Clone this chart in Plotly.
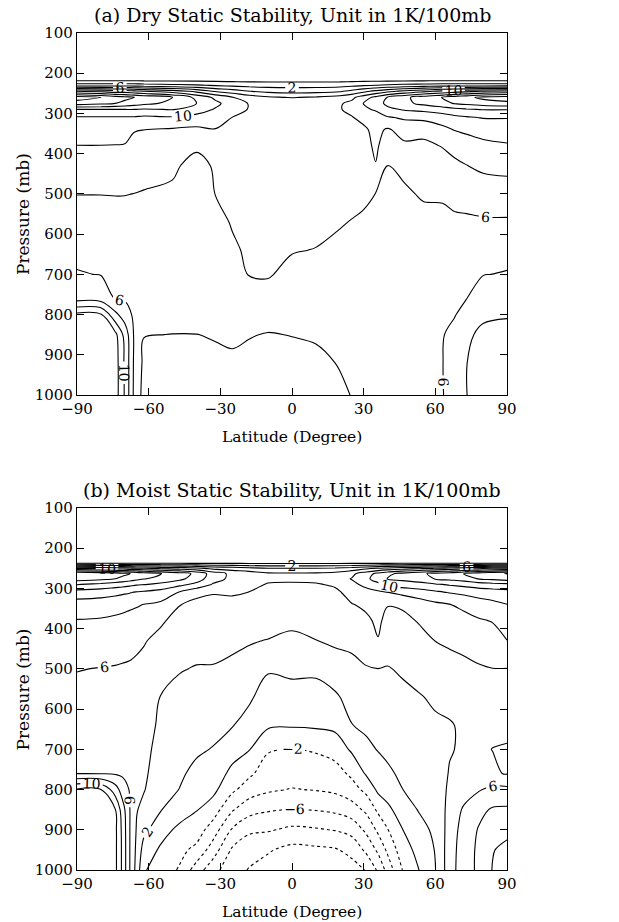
import numpy as np
import plotly.graph_objects as go

# ---------------- Panel (a): dry static stability (K/100mb) ----------------
LAT_A = [-90, -80, -74, -70, -66, -62, -50, -40, -32, -25, -18, -10, 0, 10,
         20, 25, 30, 35, 40, 47, 55, 63, 68, 73, 80, 90]
PRES_A = [100, 215, 230, 245, 260, 275, 290, 310, 340, 380, 430, 500, 570,
          640, 700, 760, 800, 850, 920, 1000]
# one row per latitude (LAT_A), values at the pressure levels PRES_A
DRY = [
    [-1, -1, 3, 12, 19, 17, 12, 9.8, 9, 7.98, 7.1, 6.02, 5.5, 5.6, 6.1, 7.2, 12.5, 13.5, 13.7, 13.7],
    [-1, -1, 3, 11.5, 18, 16.5, 12, 9.8, 9, 7.98, 7.1, 6.02, 5.5, 5.6, 5.95, 7.0, 12.2, 13.4, 13.6, 13.6],
    [-1, -1, 3, 11, 17, 16, 12, 9.8, 8.9, 7.95, 7, 6.05, 5.4, 5.4, 5.6, 5.9, 8.5, 12.6, 13, 13],
    [-1, -1, 3, 11, 16.5, 15.5, 12, 9.8, 8.8, 7.9, 7, 6.05, 5.3, 5.3, 5.5, 5.8, 7, 9.3, 9.7, 9.8],
    [-1, -1, 3, 10.5, 16, 15, 12, 9.8, 8.1, 7.5, 6.9, 5.98, 5.2, 5.1, 5.2, 5.4, 5.6, 5.7, 5.6, 5.5],
    [-1, -1, 2.8, 10, 15.5, 14.5, 11.8, 9.6, 8.02, 7.4, 6.6, 5.9, 5.3, 5.1, 5.0, 4.9, 4.8, 4.05, 3.6, 3.3],
    [-1, -1, 2.5, 9, 14, 13.5, 12.1, 9.8, 7.8, 7.2, 6.2, 5.8, 5.4, 5.2, 5.0, 4.8, 4.5, 3.98, 3.5, 3.2],
    [-1, -1, 2.2, 7.5, 11.5, 12, 11, 9.3, 7.6, 6.2, 5.6, 5.6, 5.5, 5.3, 5.1, 4.9, 4.7, 3.98, 3.6, 3.3],
    [-1, -1, 1.8, 5.8, 9.5, 10.5, 9.8, 8.6, 7.95, 6.8, 6.15, 6.02, 5.6, 5.4, 5.2, 5.0, 4.7, 4.1, 3.7, 3.3],
    [-1, -1, 1.5, 5, 8.1, 9, 8.8, 7.98, 7.6, 7.0, 6.8, 6.5, 6.1, 5.8, 5.5, 5.1, 4.7, 4.3, 3.7, 3.3],
    [-1, -1, 1.3, 4.1, 7, 7.9, 7.9, 7.6, 7.3, 7.1, 7.0, 6.8, 6.5, 6.2, 6.05, 5.4, 4.9, 4.1, 3.5, 3.1],
    [-1, -1, 1.2, 3.5, 6.3, 7.5, 7.6, 7.4, 7.2, 7.1, 7.0, 6.8, 6.6, 6.4, 6.15, 5.3, 4.8, 3.9, 3.3, 3.0],
    [-1, -1, 1.2, 3.3, 5.9, 7.4, 7.5, 7.3, 7.2, 7.1, 7.0, 6.8, 6.5, 6.1, 5.5, 5.0, 4.7, 4.05, 3.4, 3.0],
    [-1, -1, 1.2, 3.4, 6.2, 7.5, 7.6, 7.4, 7.3, 7.1, 7.0, 6.8, 6.45, 5.95, 5.5, 5.0, 4.6, 4.2, 3.6, 3.2],
    [-1, -1, 1.3, 3.8, 6.8, 7.8, 7.9, 7.6, 7.4, 7.2, 7.0, 6.6, 6.1, 5.7, 5.3, 5.0, 4.8, 4.5, 4.1, 3.7],
    [-1, -1, 1.5, 4.5, 7.5, 8.5, 8.4, 7.9, 7.5, 7.3, 7.0, 6.4, 5.95, 5.6, 5.3, 5.0, 4.8, 4.6, 4.3, 4.05],
    [-1, -1, 1.8, 5.5, 9, 10.1, 9.5, 8.5, 7.7, 7.2, 6.8, 6.25, 5.8, 5.5, 5.2, 5.03, 4.8, 4.7, 4.5, 4.3],
    [-1, -1, 2, 6.5, 10.5, 11, 10.3, 8.8, 8.5, 8.4, 7.9, 5.98, 5.6, 5.4, 5.2, 5.03, 4.9, 4.8, 4.7, 4.5],
    [-1, -1, 2.3, 7.5, 12.1, 12.5, 11.5, 9.8, 7.8, 6.9, 5.95, 5.6, 5.4, 5.3, 5.2, 5.1, 5.03, 4.9, 4.8, 4.6],
    [-1, -1, 2.6, 8.5, 13.5, 13.5, 12.2, 10.3, 8.7, 7.7, 6.3, 5.8, 5.5, 5.4, 5.3, 5.2, 5.1, 5.03, 4.9, 4.8],
    [-1, -1, 2.8, 9.5, 15, 14.5, 12.5, 10.5, 8.6, 7.6, 6.8, 6.15, 5.6, 5.4, 5.3, 5.3, 5.3, 5.3, 5.3, 5.3],
    [-1, -1, 3, 10.5, 16.1, 15.5, 13, 11, 9.5, 8.1, 7.2, 6.2, 5.6, 5.4, 5.4, 5.5, 5.7, 5.9, 5.95, 5.9],
    [-1, -1, 3, 11, 17, 16.1, 13.5, 11.5, 10.1, 8.6, 7.6, 6.5, 5.7, 5.5, 5.6, 5.7, 5.9, 6.5, 7.0, 7.0],
    [-1, -1, 3, 11.5, 17.5, 16.5, 13.8, 11.8, 10.4, 9.0, 7.95, 6.7, 5.7, 5.5, 5.7, 5.97, 6.6, 7.6, 7.95, 7.95],
    [-1, -1, 3, 12.1, 18.5, 17, 14.1, 12.1, 10.8, 9.5, 8.4, 6.9, 5.8, 5.5, 5.95, 6.9, 7.6, 8.5, 9.0, 9.2],
    [-1, -1, 3, 12.5, 19, 17.5, 14.1, 12.1, 11, 9.8, 8.6, 7, 5.8, 5.5, 6.1, 7.0, 7.8, 8.8, 9.5, 9.8],
]

# ---------------- Panel (b): moist static stability (K/100mb) ----------------
LAT_B = [-90, -80, -74, -71, -68, -65, -62, -55, -47, -40, -33, -25, -18, -10,
         0, 10, 18, 25, 31, 36, 40, 46, 53, 60, 66, 72, 78, 84, 90]
PRES_B = [100, 225, 237, 250, 263, 276, 290, 310, 340, 380, 430, 500, 570,
          640, 700, 760, 800, 850, 900, 950, 1000]
MOIST = [
    [-1, -1, -0.3, 10, 18, 17, 14.1, 11, 9.2, 7.9, 7.0, 6.05, 5.6, 5.5, 5.6, 5.95, 12.2, 13.4, 13.6, 13.6, 13.6],
    [-1, -1, -0.3, 9.5, 17.5, 16.5, 13.5, 10.8, 9.0, 7.8, 6.9, 5.95, 5.5, 5.4, 5.5, 5.9, 12.0, 13.3, 13.6, 13.6, 13.6],
    [-1, -1, -0.3, 9, 17, 16, 13, 10.5, 8.8, 7.6, 6.7, 5.9, 5.4, 5.3, 5.4, 5.8, 9.0, 12.1, 12.5, 12.5, 12.5],
    [-1, -1, -0.3, 9, 16.5, 15.5, 12.8, 10.3, 8.6, 7.5, 6.6, 5.85, 5.3, 5.2, 5.3, 5.7, 7.0, 9.0, 9.5, 9.6, 9.6],
    [-1, -1, -0.3, 8.5, 16.1, 15, 12.5, 10.1, 8.4, 7.3, 6.5, 5.8, 5.2, 5.1, 5.2, 5.5, 5.9, 6.1, 6.1, 6.1, 6.1],
    [-1, -1, -0.3, 8.2, 15.5, 14.5, 12.2, 9.8, 8.2, 7.1, 6.3, 5.7, 5.1, 4.9, 4.8, 4.6, 4.4, 4.1, 3.8, 3.5, 3.2],
    [-1, -1, -0.3, 8.1, 15, 14.1, 12.1, 9.6, 7.95, 7.0, 6.1, 5.6, 5.0, 4.7, 4.5, 4.3, 4.1, 3.5, 2.5, 1.2, 0.2],
    [-1, -1, -0.3, 7.5, 14.1, 13.5, 11.5, 9.2, 7.6, 6.2, 5.6, 4.8, 3.95, 3.7, 3.4, 3.1, 2.8, 2.1, 0.8, -0.3, -1.0],
    [-1, -1, -0.3, 7.1, 13, 12.5, 10.5, 7.8, 6.05, 5.5, 5.0, 4.1, 3.5, 3.1, 2.7, 2.3, 1.95, 1.0, -0.5, -1.5, -2.2],
    [-1, -1, -0.3, 6.5, 11.5, 11, 9.5, 6.4, 5.6, 5.1, 4.6, 3.9, 3.4, 2.9, 2.3, 1.5, 1.0, 0.1, -1.0, -2.5, -5],
    [-1, -1, -0.3, 5.5, 9, 8.8, 7.8, 6.1, 5.5, 5.03, 4.5, 3.9, 3.3, 2.6, 1.9, 1.1, 0.5, -1.0, -3.0, -5.0, -7.3],
    [-1, -1, -0.3, 5.03, 7.5, 7.5, 7.1, 6.2, 5.5, 5.03, 4.3, 3.7, 3.0, 2.1, 0.8, -0.5, -1.6, -3.8, -6.2, -8.3, -9.3],
    [-1, -1, -0.3, 4.5, 7.1, 7.2, 6.8, 5.97, 5.4, 4.9, 4.1, 3.5, 2.3, 1.3, 0.1, -1.6, -3.0, -5.2, -7.6, -9.3, -10.1],
    [-1, -1, -0.3, 4.1, 6.3, 6.6, 5.8, 5.3, 4.9, 4.5, 3.95, 2.2, 1.1, 0.3, -1.8, -3.03, -3.7, -5.8, -7.8, -9.8, -10.8],
    [-1, -1, -0.3, 4.1, 6.2, 6.5, 5.7, 5.2, 4.7, 4.2, 3.8, 2.4, 1.3, 0.2, -2.1, -3.03, -4.1, -6.1, -8.4, -10.6, -11.5],
    [-1, -1, -0.3, 4.1, 6.3, 6.6, 5.8, 5.3, 4.8, 4.3, 3.98, 2.3, 1.4, 0.3, -1.8, -3.03, -3.9, -5.9, -8.2, -10.4, -11.5],
    [-1, -1, -0.3, 4.3, 6.6, 7.1, 6.3, 5.5, 5.03, 4.6, 4.3, 3.1, 1.7, 0.5, -1.2, -2.8, -3.6, -5.6, -7.9, -10.2, -11.2],
    [-1, -1, -0.3, 4.8, 7.5, 8.1, 7.5, 6.8, 5.9, 5.2, 4.25, 3.7, 2.7, 1.95, 0.3, -1.6, -2.8, -4.9, -7.3, -9.4, -10.8],
    [-1, -1, -0.3, 5.5, 9.1, 9.5, 8.5, 7.3, 6.4, 5.6, 4.7, 3.9, 3.2, 2.4, 1.5, 0.2, -1.5, -3.6, -5.6, -7.6, -9.9],
    [-1, -1, -0.3, 6.1, 10.5, 11, 9.5, 7.6, 6.9, 6.4, 5.9, 3.98, 3.3, 2.8, 2.1, 1.0, 0.4, -1.6, -3.6, -5.6, -7.7],
    [-1, -1, -0.3, 6.5, 11.5, 12.1, 10.5, 7.95, 6.1, 5.4, 4.9, 3.9, 3.6, 3.1, 2.5, 1.6, 1.0, -0.5, -2.1, -3.6, -5.3],
    [-1, -1, -0.3, 7.1, 12.5, 12.5, 11, 8.5, 6.2, 5.6, 5.1, 4.2, 3.6, 3.2, 2.8, 2.4, 1.95, 1.0, -0.1, -1.0, -2.05],
    [-1, -1, -0.3, 7.5, 13.5, 13, 11.3, 9.0, 7.0, 6.1, 5.5, 4.5, 3.9, 3.5, 3.2, 2.9, 2.6, 2.1, 1.3, 0.6, -0.05],
    [-1, -1, -0.3, 8.1, 14.5, 14.1, 11.8, 9.6, 7.6, 6.6, 6.02, 4.9, 4.2, 3.8, 3.5, 3.2, 3.03, 2.7, 2.4, 2.1, 1.95],
    [-1, -1, -0.3, 8.5, 15, 14.5, 12.2, 10.1, 7.95, 6.9, 6.3, 5.3, 4.4, 3.9, 3.9, 4.1, 4.3, 4.6, 4.8, 5.03, 5.1],
    [-1, -1, -0.3, 9, 16.1, 15, 12.6, 10.4, 8.5, 7.3, 6.6, 5.5, 4.6, 4.2, 4.2, 4.5, 5.03, 6.3, 6.9, 7.1, 7.2],
    [-1, -1, -0.3, 9.5, 17, 16.1, 13, 10.8, 9.03, 7.8, 6.9, 5.8, 4.8, 4.3, 4.2, 4.6, 5.8, 7.5, 8.1, 8.3, 8.3],
    [-1, -1, -0.3, 10.1, 17.5, 16.5, 13.3, 11, 9.5, 8.1, 7.2, 5.97, 4.9, 4.3, 3.98, 4.2, 6.5, 8.2, 9.03, 9.9, 10.1],
    [-1, -1, -0.3, 10.1, 18.1, 17, 13.5, 11.2, 9.97, 8.6, 7.98, 5.95, 5.0, 4.3, 3.9, 3.9, 6.5, 8.3, 9.5, 10.5, 11],
]

# contour level sets: (start, end, step, labelled, dash)
LEVEL_SETS = [
    (2, 10, 4, True, "solid"),
    (14, 30, 4, False, "solid"),
    (0, 28, 4, False, "solid"),
    (-10, -2, 4, True, "dot"),
    (-12, -4, 4, False, "dot"),
]

LAT_TICKS = [-90, -60, -30, 0, 30, 60, 90]
P_TICKS = [100, 200, 300, 400, 500, 600, 700, 800, 900, 1000]
TITLE_A = "(a) Dry Static Stability, Unit in 1K/100mb"
TITLE_B = "(b) Moist Static Stability, Unit in 1K/100mb"

FONT = "DejaVu Serif"
fig = go.Figure()


def add_panel(lat, pres, cols, xa, ya):
    z = np.array(cols, dtype=float).T
    for start, end, step, labelled, dash in LEVEL_SETS:
        fig.add_trace(go.Contour(
            x=lat, y=pres, z=z, xaxis=xa, yaxis=ya,
            autocontour=False,
            contours=dict(start=start, end=end, size=step, coloring="lines",
                          showlabels=labelled,
                          labelfont=dict(family=FONT, size=14, color="black")),
            line=dict(width=1.1, dash=dash),
            colorscale=[[0, "black"], [1, "black"]],
            showscale=False, hoverinfo="skip"))


add_panel(LAT_A, PRES_A, DRY, "x", "y")
add_panel(LAT_B, PRES_B, MOIST, "x2", "y2")

axis_common = dict(showline=True, linecolor="black", linewidth=1.3, mirror="ticks",
                   ticks="inside", ticklen=7, tickcolor="black", showgrid=False,
                   zeroline=False, tickfont=dict(family=FONT, size=15, color="black"))

fig.update_layout(
    width=619, height=922,
    margin=dict(l=77, r=112, t=33, b=52),
    paper_bgcolor="white", plot_bgcolor="white",
    showlegend=False,
    xaxis=dict(domain=[0, 1], anchor="y", range=[-90, 90], tickvals=LAT_TICKS, **axis_common),
    yaxis=dict(domain=[0.5675, 1], anchor="x", range=[1000, 100], tickvals=P_TICKS, **axis_common),
    xaxis2=dict(domain=[0, 1], anchor="y2", range=[-90, 90], tickvals=LAT_TICKS, **axis_common),
    yaxis2=dict(domain=[0, 0.4325], anchor="x2", range=[1000, 100], tickvals=P_TICKS, **axis_common),
)

tfont = dict(family=FONT, size=19, color="black")
xfont = dict(family=FONT, size=15.5, color="black")
yfont = dict(family=FONT, size=17, color="black")
ann = [
    dict(text=TITLE_A, x=0.5, y=1.0215, font=tfont),
    dict(text=TITLE_B, x=0.5, y=0.454, font=tfont),
    dict(text="Latitude (Degree)", x=0.5, y=0.517, font=xfont),
    dict(text="Latitude (Degree)", x=0.5, y=-0.050, font=xfont),
    dict(text="Pressure (mb)", x=-0.125, y=0.784, font=yfont, textangle=-90),
    dict(text="Pressure (mb)", x=-0.125, y=0.216, font=yfont, textangle=-90),
]
for a in ann:
    fig.add_annotation(xref="paper", yref="paper", showarrow=False,
                       xanchor="center", yanchor="middle", **a)

fig.write_html("out.html")
